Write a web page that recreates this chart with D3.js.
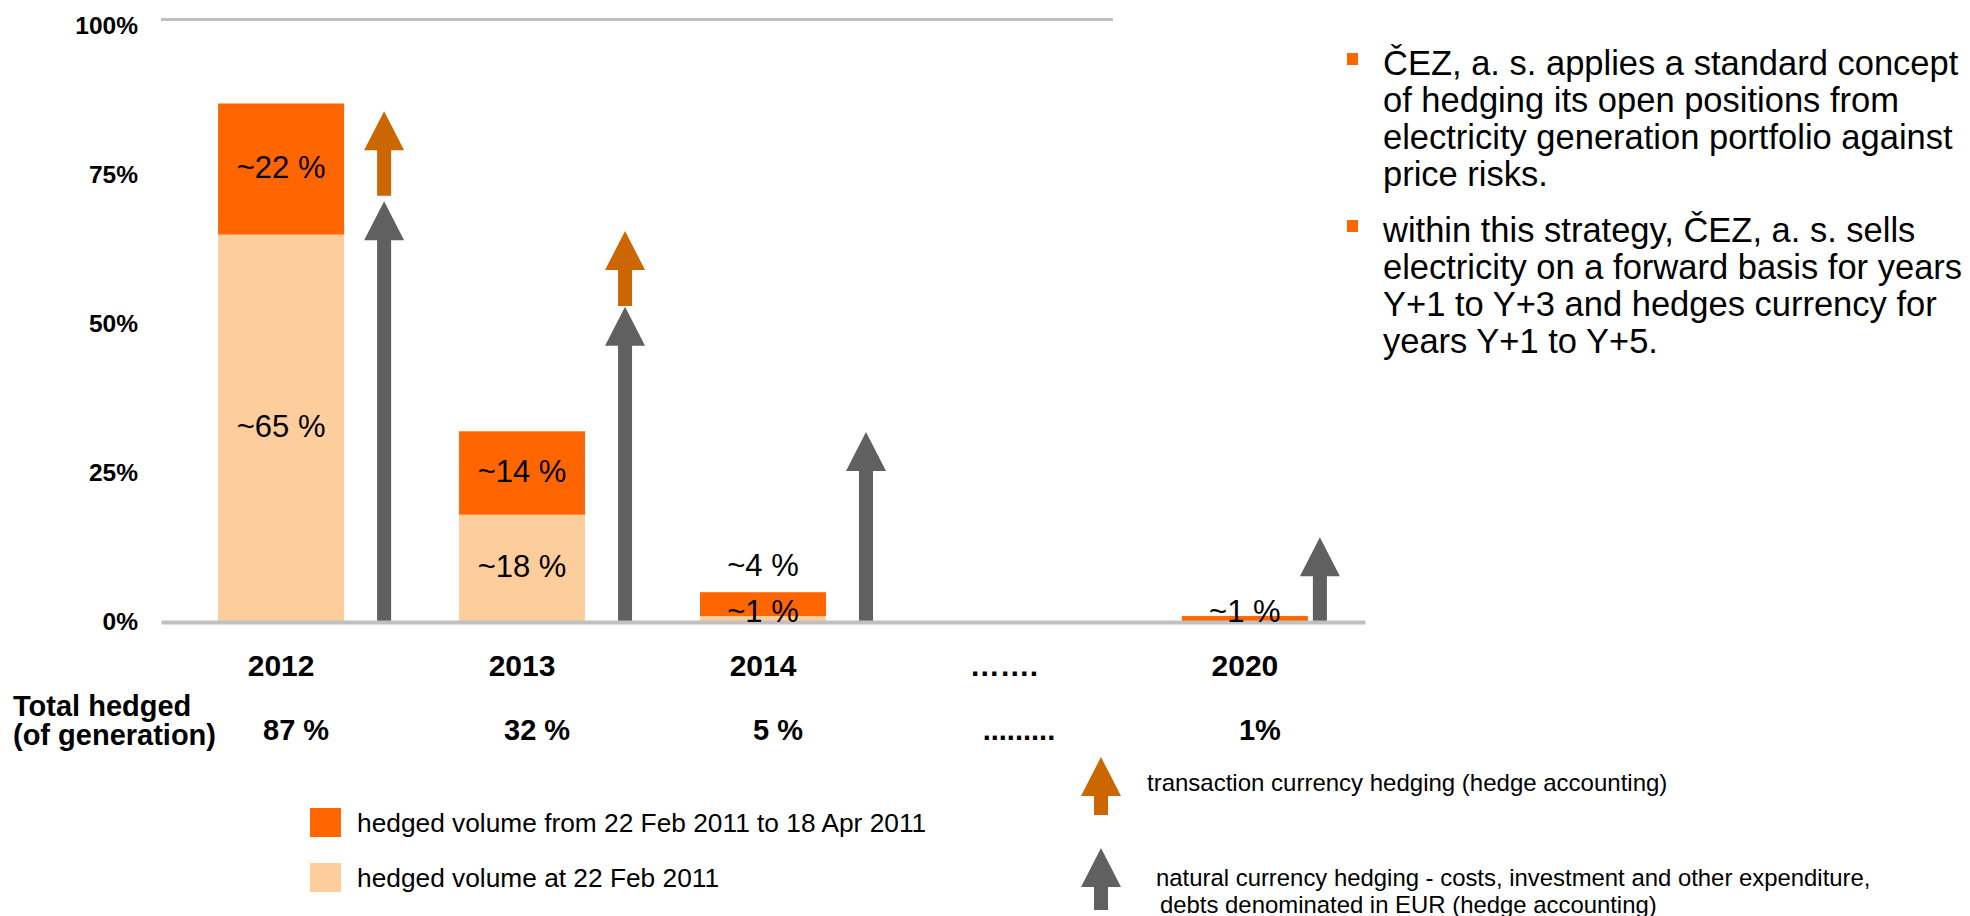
<!DOCTYPE html>
<html lang="en">
<head>
    <meta charset="UTF-8">
    <title>ČEZ hedging</title>
    <script src="https://d3js.org/d3.v7.min.js"></script>
    <style>
        body { margin: 0; background: #fff; }
        svg text { font-family: "Liberation Sans", Arial, Helvetica, sans-serif; fill: #000; }
        .axis .domain { stroke: #c0c0c0; stroke-width: 4; }
        .axis text { font-weight: bold; }
    </style>
</head>
<body>
<svg id="chart" width="1970" height="916"></svg>
<script>
    // chart values (percent of generation)
    const categories = ["2012", "2013", "2014", "…….", "2020"];
    const hedgedAtStart = [65, 18, 1, null, 0];      // hedged volume at 22 Feb 2011
    const hedgedNew = [22, 14, 4, null, 1];          // hedged 22 Feb - 18 Apr 2011
    const totalLabels = ["87 %", "32 %", "5 %", ".........", "1%"];
    const naturalHedgeTop = [70.6, 52.9, 31.9, null, 14.2];
    const transactionFrom = [71.5, 53, null, null, null];
    const transactionTo = [85.7, 65.6, null, null, null];
    const yTicks = [0, 25, 50, 75, 100];

    const bullets = [
        ["ČEZ, a. s. applies a standard concept",
         "of hedging its open positions from",
         "electricity generation portfolio against",
         "price risks."],
        ["within this strategy, ČEZ, a. s. sells",
         "electricity on a forward basis for years",
         "Y+1 to Y+3 and hedges currency for",
         "years Y+1 to Y+5."]
    ];

    const dark = "#ff6600", light = "#fdcd9b", arrowOrange = "#cc6600", arrowGray = "#606060";

    const svg = d3.select("#chart");

    const y = d3.scaleLinear().domain([0, 100]).range([622, 26]);
    const x = d3.scaleBand().domain(categories).range([161, 1365])
        .paddingInner(0.477).paddingOuter(0.237);

    // top gridline
    svg.append("line")
        .attr("x1", 161).attr("x2", 1113)
        .attr("y1", y(100) - 6.5).attr("y2", y(100) - 6.5)
        .attr("stroke", "#c0c0c0").attr("stroke-width", 3);

    // y axis labels
    svg.append("g").attr("class", "axis")
        .attr("transform", "translate(161,0)")
        .call(d3.axisLeft(y).tickValues(yTicks).tickFormat(d => d + "%").tickSize(0).tickPadding(23))
        .call(g => g.select(".domain").remove())
        .selectAll("text").style("font-size", "24.5px");

    // stacked bars
    const rows = categories.map((c, i) => ({ cat: c, start: hedgedAtStart[i], add: hedgedNew[i] }))
        .filter(d => d.start !== null);
    const series = d3.stack().keys(["start", "add"])(rows);
    const colors = { start: light, add: dark };

    svg.append("g").selectAll("g")
        .data(series).join("g")
        .attr("fill", s => colors[s.key])
        .selectAll("rect")
        .data(s => s)
        .join("rect")
        .attr("x", d => x(d.data.cat))
        .attr("width", x.bandwidth())
        .attr("y", d => y(d[1]))
        .attr("height", d => y(d[0]) - y(d[1]));

    // natural currency hedging arrows (gray) + transaction hedging arrows (orange)
    function arrow(cx, tipY, bottomY) {
        const hh = 39, hw = 20, sw = 7;
        return `M${cx},${tipY}L${cx + hw},${tipY + hh}L${cx + sw},${tipY + hh}L${cx + sw},${bottomY}` +
               `L${cx - sw},${bottomY}L${cx - sw},${tipY + hh}L${cx - hw},${tipY + hh}Z`;
    }
    const arrowX = c => x(c) + x.bandwidth() / 2 + (c === "2020" ? 75 : 103);

    svg.append("g").selectAll("path")
        .data(categories.filter((c, i) => naturalHedgeTop[i] !== null))
        .join("path")
        .attr("fill", arrowGray)
        .attr("d", c => arrow(arrowX(c), y(naturalHedgeTop[categories.indexOf(c)]), y(0)));

    svg.append("g").selectAll("path")
        .data(categories.filter((c, i) => transactionTo[i] !== null))
        .join("path")
        .attr("fill", arrowOrange)
        .attr("d", c => {
            const i = categories.indexOf(c);
            return arrow(arrowX(c), y(transactionTo[i]), y(transactionFrom[i]));
        });

    // x axis with baseline
    svg.append("g").attr("class", "axis")
        .attr("transform", `translate(0,${y(0)})`)
        .call(d3.axisBottom(x).tickSize(0).tickSizeOuter(0).tickPadding(33))
        .selectAll("text").style("font-size", "30px");

    // segment labels
    const labels = [];
    rows.forEach(r => {
        let lowest = true;
        let base = 0;
        [["start", r.start], ["add", r.add]].forEach(([k, v]) => {
            const y0 = base, y1 = base + v;
            base = y1;
            if (!v) return;
            const h = y(y0) - y(y1);
            let ty;
            if (h >= 40) ty = (y(y0) + y(y1)) / 2 + 9;
            else if (lowest) ty = y(0);
            else ty = y(r.start + r.add) - 16;
            lowest = false;
            labels.push({ cat: r.cat, text: "~" + v + " %", y: ty });
        });
    });
    svg.append("g").selectAll("text")
        .data(labels).join("text")
        .attr("x", d => x(d.cat) + x.bandwidth() / 2)
        .attr("y", d => d.y)
        .attr("text-anchor", "middle")
        .style("font-size", "31px")
        .text(d => d.text);

    // totals row
    svg.append("text").attr("x", 13).attr("y", 716)
        .style("font-size", "29px").style("font-weight", "bold").text("Total hedged");
    svg.append("text").attr("x", 13).attr("y", 745)
        .style("font-size", "29px").style("font-weight", "bold").text("(of generation)");
    svg.append("g").selectAll("text")
        .data(categories).join("text")
        .attr("x", c => x(c) + x.bandwidth() / 2 + 15)
        .attr("y", 740)
        .attr("text-anchor", "middle")
        .style("font-size", "29px").style("font-weight", "bold")
        .text((c, i) => totalLabels[i]);

    // legend for bars
    const legend = [
        { color: dark, text: "hedged volume from 22 Feb 2011 to 18 Apr 2011" },
        { color: light, text: "hedged volume at 22 Feb 2011" }
    ];
    const lg = svg.append("g").selectAll("g").data(legend).join("g")
        .attr("transform", (d, i) => `translate(310,${808 + i * 55})`);
    lg.append("rect").attr("width", 31).attr("height", 29).attr("fill", d => d.color);
    lg.append("text").attr("x", 47).attr("y", 24).style("font-size", "26.3px").text(d => d.text);

    // legend for arrows
    svg.append("path").attr("fill", arrowOrange).attr("d", arrow(1101, 757, 815));
    svg.append("text").attr("x", 1147).attr("y", 791).style("font-size", "24px")
        .text("transaction currency hedging (hedge accounting)");
    svg.append("path").attr("fill", arrowGray).attr("d", arrow(1101, 848, 910));
    svg.append("text").attr("x", 1156).attr("y", 886).style("font-size", "23.9px")
        .text("natural currency hedging - costs, investment and other expenditure,");
    svg.append("text").attr("x", 1160).attr("y", 913).style("font-size", "23.9px")
        .text("debts denominated in EUR (hedge accounting)");

    // bullet text on the right
    const bl = svg.append("g").selectAll("g").data(bullets).join("g")
        .attr("transform", (d, i) => `translate(1347,${i === 0 ? 53 : 220})`);
    bl.append("rect").attr("width", 11).attr("height", 12).attr("fill", dark);
    bl.append("text")
        .style("font-size", "34.5px")
        .selectAll("tspan").data(d => d).join("tspan")
        .attr("x", 36)
        .attr("y", (d, i) => 22 + i * 37)
        .text(d => d);
</script>
</body>
</html>
